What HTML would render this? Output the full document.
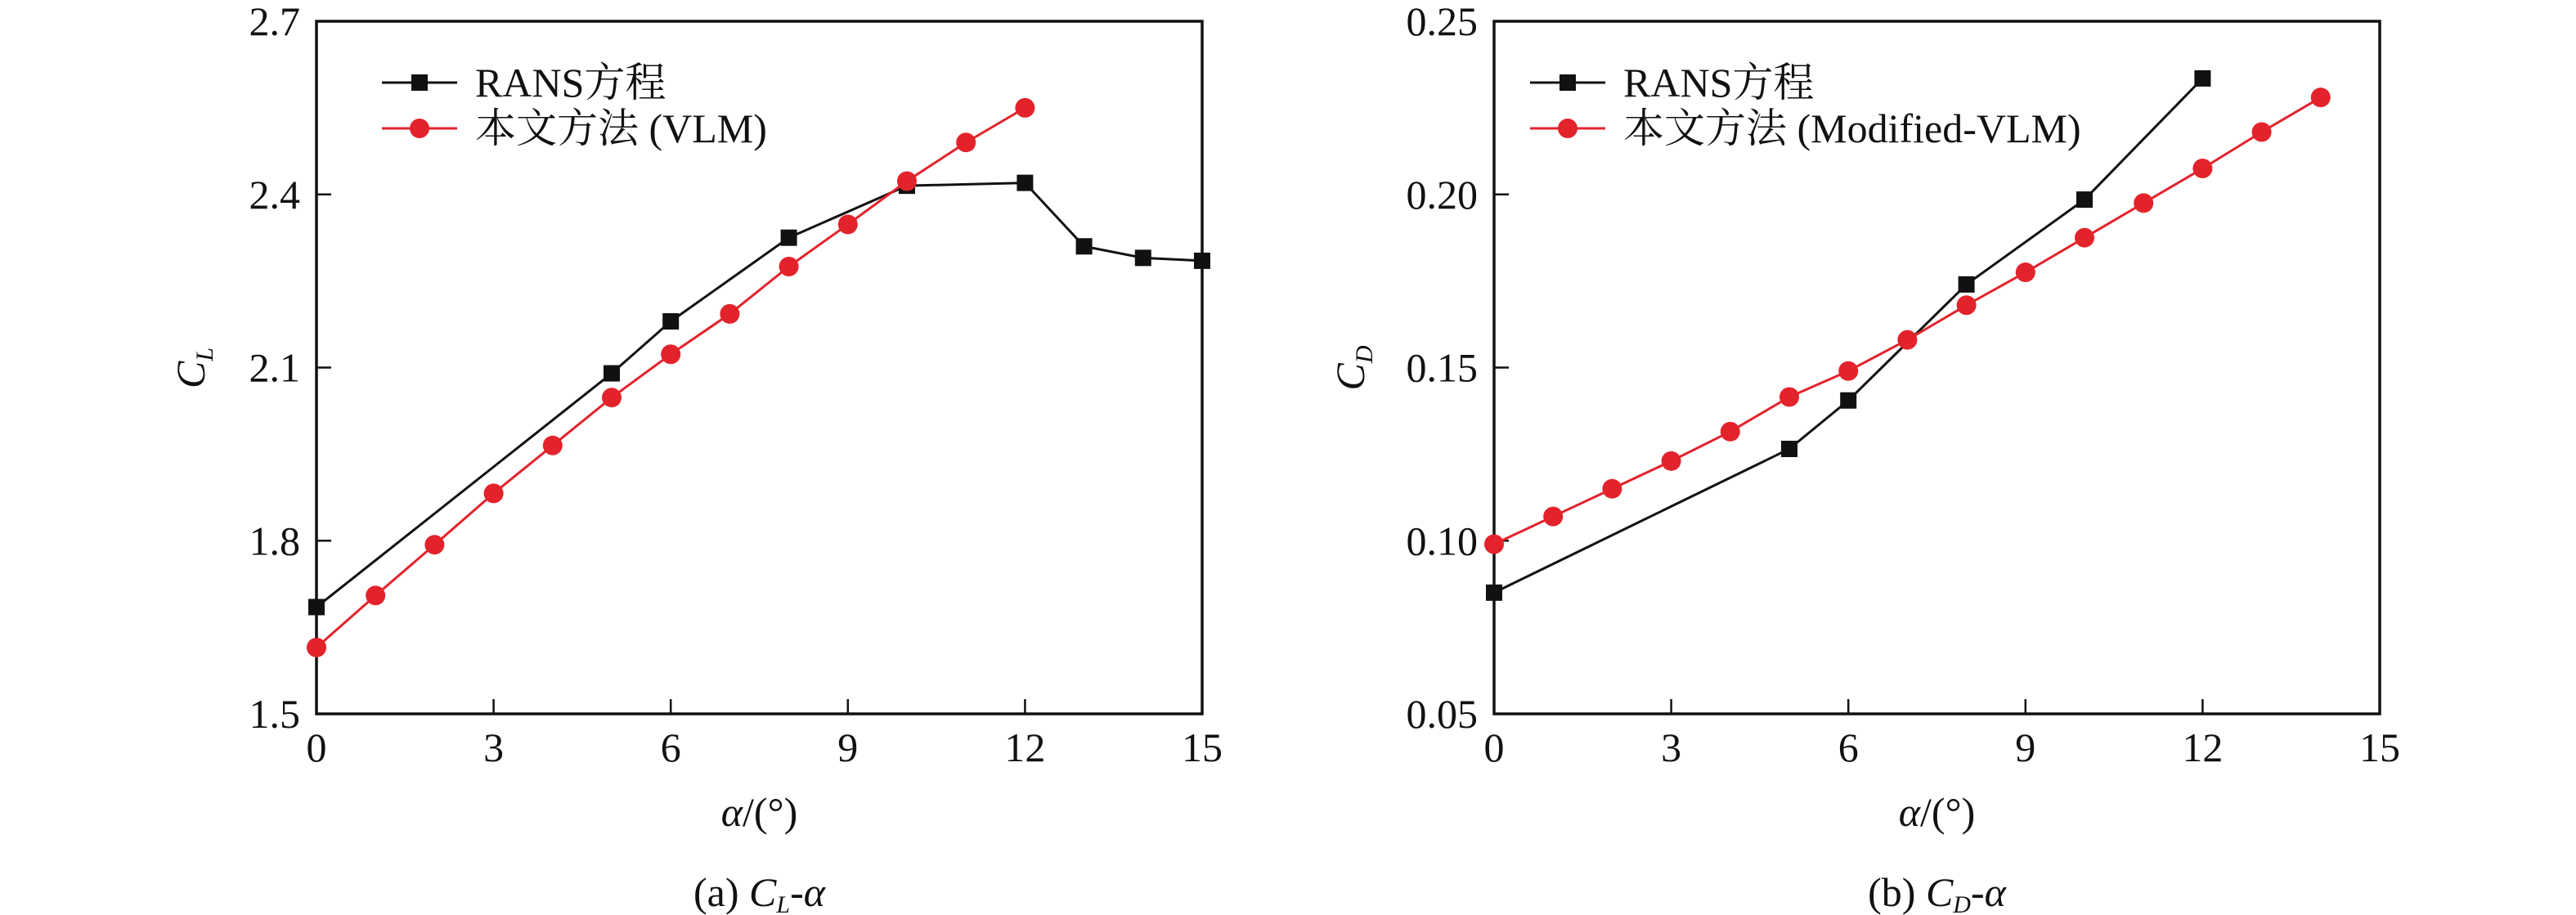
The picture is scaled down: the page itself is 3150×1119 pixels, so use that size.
<!DOCTYPE html>
<html><head><meta charset="utf-8"><style>
html,body{margin:0;padding:0;background:#fff;}
svg{display:block;}
text{font-family:"Liberation Serif","Noto Serif CJK SC",serif;fill:#111;}
</style></head><body>
<svg id="fig" width="3150" height="1119" viewBox="0 0 3150 1119" xmlns="http://www.w3.org/2000/svg"></svg>
<script>
// ---- chart (a) data ----
const xTicks = [0, 3, 6, 9, 12, 15];
const clTicks = [1.5, 1.8, 2.1, 2.4, 2.7];
const clTickLabels = ["1.5", "1.8", "2.1", "2.4", "2.7"];
const clRansAlpha = [0, 5, 6, 8, 10, 12, 13, 14, 15];
const clRans = [1.685, 2.09, 2.18, 2.325, 2.415, 2.42, 2.31, 2.29, 2.285];
const clVlmAlpha = [0,1,2,3,4,5,6,7,8,9,10,11,12];
const clVlm = [1.615, 1.705, 1.793, 1.882, 1.965, 2.048, 2.123, 2.193, 2.275, 2.348, 2.423, 2.49, 2.55];
// ---- chart (b) data ----
const cdTicks = [0.05, 0.10, 0.15, 0.20, 0.25];
const cdTickLabels = ["0.05", "0.10", "0.15", "0.20", "0.25"];
const cdRansAlpha = [0, 5, 6, 8, 10, 12];
const cdRans = [0.085, 0.1265, 0.1405, 0.174, 0.1985, 0.2335];
const cdVlmAlpha = [0,1,2,3,4,5,6,7,8,9,10,11,12,13,14];
const cdVlm = [0.099, 0.107, 0.115, 0.123, 0.1315, 0.1415, 0.149, 0.158, 0.168, 0.1775, 0.1875, 0.1975, 0.2075, 0.218, 0.228];

const NS = "http://www.w3.org/2000/svg";
const svg = document.getElementById('fig');
function mk(tag, attrs, parent) {
  const e = document.createElementNS(NS, tag);
  for (const k in attrs) e.setAttribute(k, attrs[k]);
  (parent || svg).appendChild(e);
  return e;
}

function drawChart(o) {
  const g = mk('g', {});
  
  
  const L = o.left, R = o.left + 1083, T = 26, B = 873;
  const sx = v => L + (v - 0) / 15 * (R - L);
  const sy = v => B - (v - o.ymin) / (o.ymax - o.ymin) * (B - T);
  const frame = mk('rect', {x: L, y: T, width: R - L, height: B - T, fill: 'none', stroke: '#111', 'stroke-width': 3.5}, g);
  
  
  xTicks.forEach(t => {
    const x = sx(t);
    const tk = mk('line', {x1: x, y1: B, x2: x, y2: B - 18, stroke: '#111', 'stroke-width': 2.5}, g);
    
    
    const lb = mk('text', {x: x, y: B + 58, 'font-size': 50, 'text-anchor': 'middle'}, g);
    lb.textContent = String(t);
    
    
  });
  o.ticks.forEach((t, i) => {
    const y = sy(t);
    const tk = mk('line', {x1: L, y1: y, x2: L + 18, y2: y, stroke: '#111', 'stroke-width': 2.5}, g);
    
    
    const lb = mk('text', {x: L - 20, y: y + 17, 'font-size': 50, 'text-anchor': 'end'}, g);
    lb.textContent = o.tickLabels[i];
    
    
  });
  function series(xs, ys, color, shape, nm) {
    const pts = xs.map((a, i) => sx(a) + ',' + sy(ys[i])).join(' ');
    const pl = mk('polyline', {points: pts, fill: 'none', stroke: color, 'stroke-width': 3}, g);
    
    
    xs.forEach((a, i) => {
      let m;
      if (shape === 'sq') m = mk('rect', {x: sx(a) - 10, y: sy(ys[i]) - 10, width: 20, height: 20, fill: color}, g);
      else m = mk('circle', {cx: sx(a), cy: sy(ys[i]), r: 12, fill: color}, g);
      
      
    });
  }
  series(o.rx, o.ry, '#111', 'sq', 'rans');
  series(o.vx, o.vy, '#e3232c', 'ci', 'vlm');
  const lx1 = o.legX, lx2 = o.legX + 92, lm = o.legX + 46;
  const l1 = mk('line', {x1: lx1, y1: 101, x2: lx2, y2: 101, stroke: '#111', 'stroke-width': 3}, g);
  
  
  const m1 = mk('rect', {x: lm - 10, y: 91, width: 20, height: 20, fill: '#111'}, g);
  
  
  const t1 = mk('text', {x: o.legX + 114, y: 118, 'font-size': 50}, g);
  t1.textContent = 'RANS方程';
  
  
  const l2 = mk('line', {x1: lx1, y1: 157, x2: lx2, y2: 157, stroke: '#e3232c', 'stroke-width': 3}, g);
  
  
  const m2 = mk('circle', {cx: lm, cy: 157, r: 12, fill: '#e3232c'}, g);
  
  
  const t2 = mk('text', {x: o.legX + 114, y: 174, 'font-size': 50}, g);
  t2.textContent = o.vlmLabel;
  
  
  const cx = (L + R) / 2;
  const xt = mk('text', {x: cx, y: 1010, 'font-size': 50, 'text-anchor': 'middle'}, g);
  xt.innerHTML = '<tspan font-style="italic">α</tspan>/(°)';
  
  
  const yt = mk('text', {x: 0, y: 0, 'font-size': 50, 'text-anchor': 'middle', transform: 'translate(' + o.yTitleX + ',450) rotate(-90)'}, g);
  yt.innerHTML = '<tspan font-style="italic">C</tspan><tspan font-style="italic" font-size="30" dy="10">' + o.sub + '</tspan>';
  
  
  const cap = mk('text', {x: cx, y: 1108, 'font-size': 50, 'text-anchor': 'middle'}, g);
  cap.innerHTML = o.capLetter + ' <tspan font-style="italic">C</tspan><tspan font-style="italic" font-size="30" dy="8">' + o.sub + '</tspan><tspan dy="-8">-</tspan><tspan font-style="italic">α</tspan>';
  
  
}

drawChart({name: 'cl-alpha-chart', left: 387, ymin: 1.5, ymax: 2.7, ticks: clTicks, tickLabels: clTickLabels,
  rx: clRansAlpha, ry: clRans, vx: clVlmAlpha, vy: clVlm, legX: 467, vlmLabel: '本文方法 (VLM)',
  yTitleX: 250, sub: 'L', capLetter: '(a)'});
drawChart({name: 'cd-alpha-chart', left: 1827, ymin: 0.05, ymax: 0.25, ticks: cdTicks, tickLabels: cdTickLabels,
  rx: cdRansAlpha, ry: cdRans, vx: cdVlmAlpha, vy: cdVlm, legX: 1871, vlmLabel: '本文方法 (Modified-VLM)',
  yTitleX: 1668, sub: 'D', capLetter: '(b)'});
</script>
</body></html>
